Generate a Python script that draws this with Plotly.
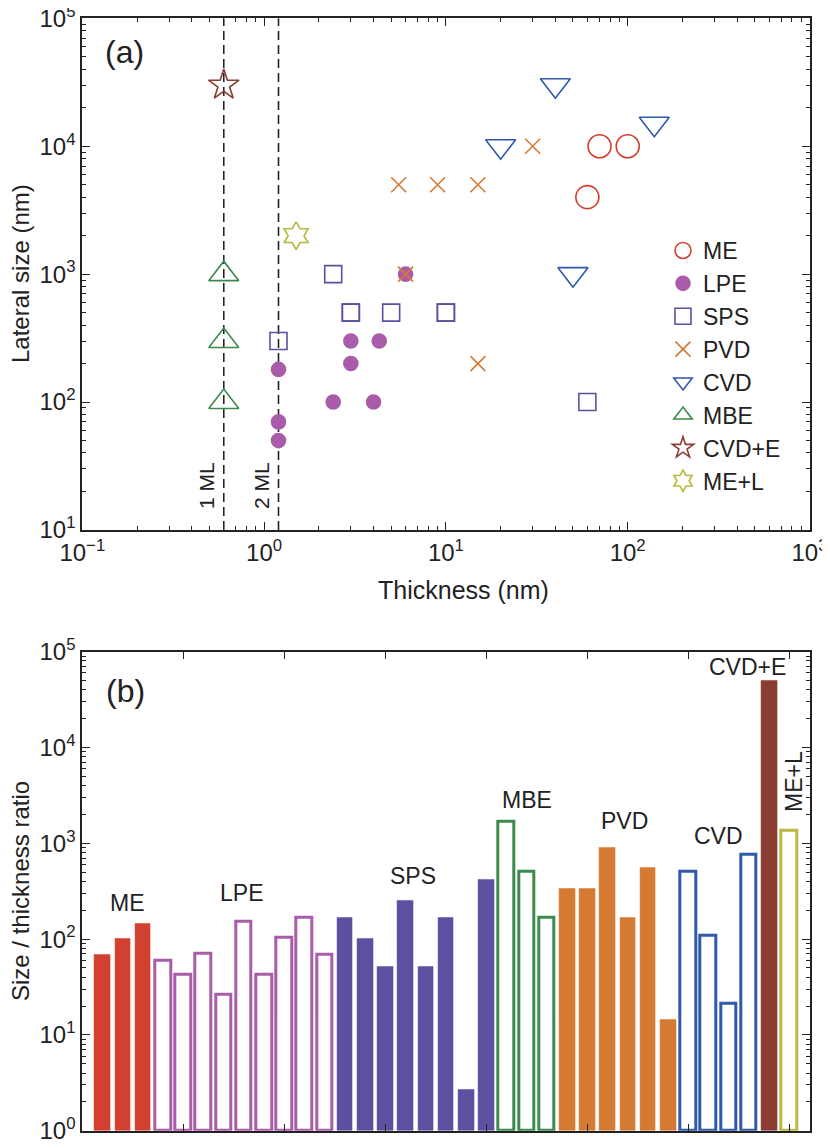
import plotly.graph_objects as go

# page body adds an 8 px margin, so the figure is sized and placed to fit the window
OFF = 8
W, H = 830 - OFF, 1148 - OFF

# (a) thickness and lateral size of each sample (nm), in bar order
me_thick = [60, 100, 70]
me_size = [4000, 10000, 10000]
lpe_thick = [1.2, 1.2, 4.3, 4.0, 1.2, 2.4, 3, 6, 3]
lpe_size = [70, 50, 300, 100, 180, 100, 300, 1000, 200]
sps_thick = [3, 5, 10, 1.2, 10, 3, 60, 2.4]
sps_size = [500, 500, 500, 300, 500, 500, 100, 1000]
mbe_thick = [0.6, 0.6, 0.6]
mbe_size = [1000, 300, 100]
pvd_thick = [15, 30, 5.5, 6, 9, 15]
pvd_size = [5000, 10000, 5000, 1000, 5000, 200]
cvd_thick = [20, 140, 50, 40]
cvd_size = [10000, 15000, 1000, 30000]
cvde_thick = [0.6]
cvde_size = [30000]
mel_thick = [1.5]
mel_size = [2000]

# monolayer guide lines
ml_thick = [0.6, 1.2]
ml_labels = ["1 ML", "2 ML"]

# (b) size / thickness ratio, same order as the bars
me_ratio = [67, 100, 143]
lpe_ratio = [59, 42, 70, 25, 152, 42, 102, 168, 68]
sps_ratio = [167, 100, 50, 250, 50, 167, 1.67, 417]
mbe_ratio = [1700, 505, 168]
pvd_ratio = [332, 332, 905, 167, 553, 13.3]
cvd_ratio = [505, 108, 20.2, 765]
cvde_ratio = [50000]
mel_ratio = [1350]

x_tickvals = [0.1, 1, 10, 100, 1000]
x_ticktext = ["10<sup>−1</sup>", "10<sup>0</sup>", "10<sup>1</sup>", "10<sup>2</sup>", "10<sup>3</sup>"]
ya_tickvals = [10, 100, 1000, 10000, 100000]
ya_ticktext = ["10<sup>1</sup>", "10<sup>2</sup>", "10<sup>3</sup>", "10<sup>4</sup>", "10<sup>5</sup>"]
yb_tickvals = [1, 10, 100, 1000, 10000, 100000]
yb_ticktext = ["10<sup>0</sup>", "10<sup>1</sup>", "10<sup>2</sup>", "10<sup>3</sup>", "10<sup>4</sup>", "10<sup>5</sup>"]

RED = "#d2402f"
PURPLE = "#a95ca9"
INDIGO = "#5f4fa1"
ORANGE = "#d57a33"
BLUE = "#2f59ab"
GREEN = "#3d8a4c"
BROWN = "#8b3d33"
OLIVE = "#b9b83f"
INK = "#222222"
FONT = "Liberation Sans, Arial, sans-serif"


def px_x(x):
    return (x - OFF) / W


def px_y(y):
    return 1 - (y - OFF) / H


fig = go.Figure()

# dashed monolayer lines
for t in ml_thick:
    fig.add_trace(go.Scatter(x=[t, t], y=[10, 100000], mode="lines", showlegend=False,
                             line=dict(color=INK, width=1.6, dash="9px,5px"), hoverinfo="skip"))

# scatter panel, legend order
scatter_specs = [
    ("ME", me_thick, me_size, "circle-open", 23, RED),
    ("LPE", lpe_thick, lpe_size, "circle", 14, PURPLE),
    ("SPS", sps_thick, sps_size, "square-open", 17, INDIGO),
    ("PVD", pvd_thick, pvd_size, "x-thin-open", 15, ORANGE),
    ("CVD", cvd_thick, cvd_size, "triangle-down-open", 26, BLUE),
    ("MBE", mbe_thick, mbe_size, "triangle-up-open", 26, GREEN),
    ("CVD+E", cvde_thick, cvde_size, "star-open", 23, BROWN),
    ("ME+L", mel_thick, mel_size, "hexagram-open", 21, OLIVE),
]
for name, xs, ys, sym, size, col in scatter_specs:
    fig.add_trace(go.Scatter(x=xs, y=ys, mode="markers", name=name,
                             marker=dict(symbol=sym, size=size, color=col,
                                         line=dict(color=col, width=1.6)),
                             xaxis="x", yaxis="y"))

# bar panel, bar order
bar_specs = [
    (me_ratio, RED, True),
    (lpe_ratio, PURPLE, False),
    (sps_ratio, INDIGO, True),
    (mbe_ratio, GREEN, False),
    (pvd_ratio, ORANGE, True),
    (cvd_ratio, BLUE, False),
    (cvde_ratio, BROWN, True),
    (mel_ratio, OLIVE, False),
]
pos = 1
for vals, col, filled in bar_specs:
    xs = list(range(pos, pos + len(vals)))
    pos += len(vals)
    if filled:
        mk = dict(color=col, line=dict(color=col, width=0.5))
    else:
        mk = dict(color="white", line=dict(color=col, width=3))
    fig.add_trace(go.Bar(x=xs, y=vals, base=1, width=0.78, marker=mk, showlegend=False,
                         xaxis="x2", yaxis="y2"))

x0, x1 = px_x(82.3), px_x(809.5)
axis_common = dict(showline=True, linecolor=INK, linewidth=2, mirror="allticks",
                   ticks="inside", tickcolor=INK, tickwidth=1.3, showgrid=False,
                   zeroline=False, automargin=False, ticklabeloverflow="allow",
                   tickfont=dict(family=FONT, size=24, color=INK))
minor = dict(ticks="inside", ticklen=4, tickcolor=INK, tickwidth=1.1, dtick="D1", showgrid=False)

fig.update_layout(
    width=W, height=H,
    margin=dict(l=0, r=0, t=0, b=0, autoexpand=False),
    paper_bgcolor="white", plot_bgcolor="white",
    font=dict(family=FONT, color=INK),
    showlegend=True,
    bargap=0,
    xaxis=dict(type="log", range=[-1, 3], domain=[x0, x1], anchor="y",
               tickmode="array", tickvals=x_tickvals, ticktext=x_ticktext,
               ticklen=8, minor=minor, **axis_common),
    yaxis=dict(type="log", range=[1, 5], domain=[px_y(530), px_y(18.3)], anchor="x",
               tickmode="array", tickvals=ya_tickvals, ticktext=ya_ticktext,
               ticklen=8, minor=minor, **axis_common),
    xaxis2=dict(range=[0, 36], domain=[x0, x1], anchor="y2",
                tickmode="array", tickvals=[5, 10, 15, 20, 25, 30, 35],
                showticklabels=False, ticklen=7, **axis_common),
    yaxis2=dict(type="log", range=[0, 5], domain=[px_y(1130.7), px_y(651.7)], anchor="x2",
                tickmode="array", tickvals=yb_tickvals, ticktext=yb_ticktext,
                ticklen=8, minor=minor, **axis_common),
    legend=dict(x=px_x(663), y=px_y(229), xanchor="left", yanchor="top",
                bgcolor="rgba(0,0,0,0)", font=dict(family=FONT, size=23, color=INK),
                tracegroupgap=0),
)


def note(text, x, y, size=22, angle=0):
    fig.add_annotation(text=text, x=px_x(x), y=px_y(y), xref="paper", yref="paper",
                       xanchor="center", yanchor="middle", showarrow=False,
                       textangle=angle, font=dict(family=FONT, size=size, color=INK))


note("(a)", 124, 52, size=32)
note("(b)", 125, 691, size=32)
note("Thickness (nm)", 463, 590, size=25)
note("Lateral size (nm)", 20, 274, size=24, angle=-90)
note("Size / thickness ratio", 20, 891, size=24, angle=-90)
note(ml_labels[0], 207, 486, size=21, angle=-90)
note(ml_labels[1], 262, 486, size=21, angle=-90)

group_labels = [("ME", 128, 903), ("LPE", 241, 893), ("SPS", 413, 876), ("MBE", 527, 800),
                ("PVD", 624, 821), ("CVD", 718, 836), ("CVD+E", 747, 667)]
for txt, gx, gy in group_labels:
    note(txt, gx, gy, size=23)
note("ME+L", 794, 782, size=23, angle=-90)

fig.write_html("out.html")
